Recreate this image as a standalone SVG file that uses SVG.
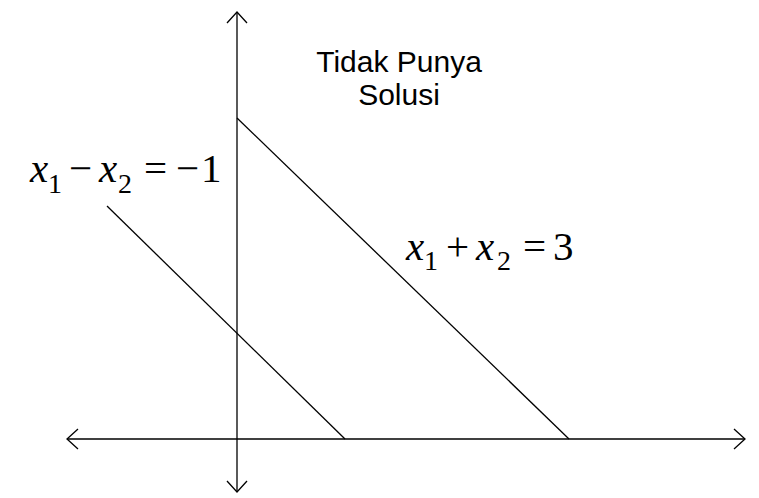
<svg xmlns="http://www.w3.org/2000/svg" width="759" height="498" viewBox="0 0 759 498">
<defs>
<style>
.ax{stroke:#000;stroke-width:1.3;fill:none}
</style>
</defs>
<rect width="759" height="498" fill="#fff"/>
<g id="axes">
<line class="ax" x1="237" y1="12" x2="237" y2="492"/>
<polyline class="ax" points="227,23 237,12 247,23"/>
<polyline class="ax" points="227,481 237,492 247,481"/>
<line class="ax" x1="67" y1="439" x2="745" y2="439"/>
<polyline class="ax" points="78,429 67,439 78,449"/>
<polyline class="ax" points="734,429 745,439 734,449"/>
</g>
<g id="connectors">
<line class="ax" x1="237" y1="118" x2="569" y2="439"/>
<line class="ax" x1="107" y1="206" x2="345" y2="439"/>
</g>
<g id="eq1" font-family="'Liberation Serif', serif" fill="#000">
<text x="30" y="182" font-size="41" font-style="italic">x</text>
<text x="48" y="193" font-size="28">1</text>
<text x="69" y="182" font-size="41">−</text>
<text x="99" y="182" font-size="41" font-style="italic">x</text>
<text x="118" y="193" font-size="28">2</text>
<text x="144" y="182" font-size="41">=</text>
<text x="176" y="182" font-size="41">−</text>
<text x="201" y="182" font-size="41">1</text>
</g>
<g id="eq2" font-family="'Liberation Serif', serif" fill="#000">
<text x="406" y="260" font-size="41" font-style="italic">x</text>
<text x="424" y="270" font-size="28">1</text>
<text x="446" y="260" font-size="41">+</text>
<text x="476" y="260" font-size="41" font-style="italic">x</text>
<text x="497" y="270" font-size="28">2</text>
<text x="523" y="260" font-size="41">=</text>
<text x="553" y="260" font-size="41">3</text>
</g>
<g id="label" font-family="'Liberation Sans', Arial, sans-serif" font-size="30" fill="#000" text-anchor="middle">
<text x="399" y="72">Tidak Punya</text>
<text x="399" y="105">Solusi</text>
</g>
</svg>
